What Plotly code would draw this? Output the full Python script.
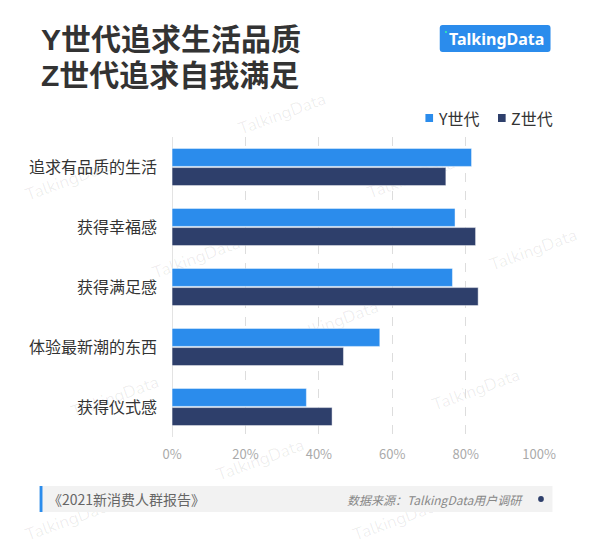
import plotly.graph_objects as go

# ---- data ----
categories = ["追求有品质的生活", "获得幸福感", "获得满足感", "体验最新潮的东西", "获得仪式感"]
series_names = ["Y世代", "Z世代"]
y_gen = [81.6, 77.1, 76.4, 56.6, 36.6]
z_gen = [74.6, 82.7, 83.4, 46.7, 43.6]
x_ticks = [0, 20, 40, 60, 80, 100]
title_lines = ["Y世代追求生活品质", "Z世代追求自我满足"]
logo_text = "TalkingData"
footer_left = "《2021新消费人群报告》"
footer_right = "数据来源：TalkingData用户调研"
watermark = "TalkingData"

W, H = 600, 547
FONT = "Noto Sans CJK SC, Noto Sans, sans-serif"
TITLE_FONT = "Liberation Sans, Noto Sans CJK SC, sans-serif"
BLUE = "#2B8CEC"
NAVY = "#2E3F6B"


def px(x):
    return x / W


def py(y):
    return 1 - y / H


fig = go.Figure()
for name, vals, col in [(series_names[0], y_gen, BLUE), (series_names[1], z_gen, NAVY)]:
    fig.add_trace(go.Bar(
        y=categories, x=vals, name=name, orientation="h",
        marker=dict(color=col, line=dict(color="rgba(255,255,255,0.45)", width=1)),
        hoverinfo="x+y",
    ))

shapes = []
annotations = []

# watermarks (below everything)
wm_pos = [(285, 114), (62, 180), (195, 258), (420, 178), (548, 250),
          (340, 322), (488, 390), (110, 397), (262, 460), (62, 520),
          (405, 520)]
for (cx, cy) in wm_pos:
    shapes.append(dict(
        type="rect", xref="paper", yref="paper",
        x0=px(cx - 50), x1=px(cx + 50), y0=py(cy + 15), y1=py(cy - 15),
        line=dict(width=0), fillcolor="rgba(0,0,0,0)", layer="below",
        label=dict(text=watermark, textangle=-20, textposition="middle center",
                   font=dict(family="Nunito, Lato, sans-serif", size=17, color="rgba(0,0,0,0.07)")),
    ))

# title
for i, t in enumerate(title_lines):
    annotations.append(dict(
        text="<b>%s</b>" % t, x=px(30), y=py(40 + 36 * i), xref="paper", yref="paper",
        xanchor="left", yanchor="middle", showarrow=False,
        font=dict(family=TITLE_FONT, size=30, color="#333333"),
    ))

# logo
x0, x1, y0, y1, r = 450, 566, 25, 52, 3
path = (f"M {px(x0 + r)},{py(y0)} L {px(x1 - r)},{py(y0)} Q {px(x1)},{py(y0)} {px(x1)},{py(y0 + r)} "
        f"L {px(x1)},{py(y1 - r)} Q {px(x1)},{py(y1)} {px(x1 - r)},{py(y1)} "
        f"L {px(x0 + r)},{py(y1)} Q {px(x0)},{py(y1)} {px(x0)},{py(y1 - r)} "
        f"L {px(x0)},{py(y0 + r)} Q {px(x0)},{py(y0)} {px(x0 + r)},{py(y0)} Z")
shapes.append(dict(type="path", xref="paper", yref="paper", path=path,
                   fillcolor=BLUE, line=dict(width=0)))
shapes.append(dict(type="rect", xref="paper", yref="paper",
                   x0=px(455.5), x1=px(457.5), y0=py(33), y1=py(31),
                   fillcolor="#2FE3B5", line=dict(width=0)))
annotations.append(dict(
    text="<b>%s</b>" % logo_text, x=px(509), y=py(39), xref="paper", yref="paper",
    xanchor="center", yanchor="middle", showarrow=False,
    font=dict(family="Noto Sans, sans-serif", size=16, color="white"),
))

# legend (manual)
leg = [(435, series_names[0], BLUE), (511, series_names[1], NAVY)]
for lx, name, col in leg:
    shapes.append(dict(type="rect", xref="paper", yref="paper",
                       x0=px(lx), x1=px(lx + 8), y0=py(122), y1=py(114),
                       fillcolor=col, line=dict(width=0)))
    annotations.append(dict(
        text=name, x=px(lx + 11), y=py(118), xref="paper", yref="paper",
        xanchor="left", yanchor="middle", showarrow=False,
        font=dict(family=FONT, size=16, color="#333333"),
    ))

# footer
shapes.append(dict(type="rect", xref="paper", yref="paper",
                   x0=px(31), x1=px(568), y0=py(512), y1=py(486),
                   fillcolor="#F2F2F2", line=dict(width=0)))
shapes.append(dict(type="rect", xref="paper", yref="paper",
                   x0=px(31), x1=px(34), y0=py(512), y1=py(486),
                   fillcolor=BLUE, line=dict(width=0)))
shapes.append(dict(type="circle", xref="paper", yref="paper",
                   x0=px(553), x1=px(559), y0=py(502), y1=py(496),
                   fillcolor=NAVY, line=dict(width=0)))
annotations.append(dict(
    text=footer_left, x=px(38), y=py(499), xref="paper", yref="paper",
    xanchor="left", yanchor="middle", showarrow=False,
    font=dict(family=FONT, size=14, color="#666666"),
))
annotations.append(dict(
    text="<i>%s</i>" % footer_right, x=px(539), y=py(499), xref="paper", yref="paper",
    xanchor="right", yanchor="middle", showarrow=False,
    font=dict(family=FONT, size=12, color="#888888"),
))

fig.update_layout(
    width=W, height=H,
    margin=dict(l=0, r=0, t=0, b=0),
    paper_bgcolor="white", plot_bgcolor="rgba(0,0,0,0)",
    barmode="group", bargap=0.36, bargroupgap=0.06,
    showlegend=False,
    shapes=shapes, annotations=annotations,
    font=dict(family=FONT),
    xaxis=dict(
        domain=[px(169.7), px(554)], range=[0, 100],
        tickvals=x_ticks, ticktext=[f"{v}%" for v in x_ticks],
        showgrid=True, gridcolor="#DDDDDD", griddash="dash", gridwidth=1,
        zeroline=True, zerolinecolor="#E3E3E3", zerolinewidth=1,
        showline=False, ticks="", ticklabelstandoff=8,
        tickfont=dict(family=FONT, size=13, color="#AAAAAA"),
        fixedrange=True,
    ),
    yaxis=dict(
        domain=[py(437), py(137)], range=[4.5, -0.5],
        showgrid=False, zeroline=False, showline=False, ticks="",
        ticklabelstandoff=14,
        tickfont=dict(family=FONT, size=16, color="#333333"),
        fixedrange=True,
    ),
)

fig.write_html(
    "out.html",
    config={"displayModeBar": False},
    post_script="document.body.style.margin='0';document.body.style.overflow='hidden';",
)
